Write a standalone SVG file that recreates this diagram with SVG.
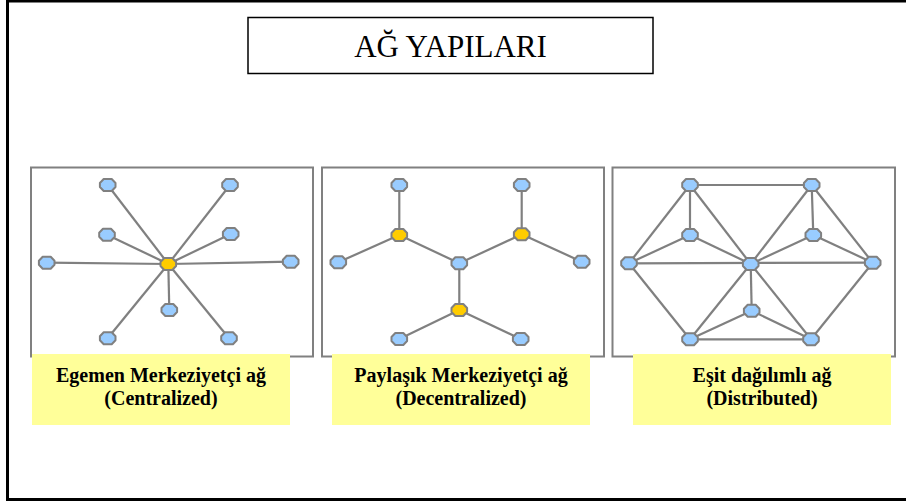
<svg xmlns="http://www.w3.org/2000/svg" xmlns:xlink="http://www.w3.org/1999/xlink" width="906" height="503" viewBox="0 0 906 503">
  <style>
    .frame { fill: #ffffff; stroke: #000000; stroke-width: 3; }
    .title-box { fill: #ffffff; stroke: #000000; stroke-width: 1.5; }
    .title { font-family: "Liberation Serif", "Times New Roman", serif; font-size: 31px; fill: #000000; }
    .panel { fill: #ffffff; stroke: #808080; stroke-width: 2; }
    .caption-box { fill: #ffff99; }
    .caption { font-family: "Liberation Serif", "Times New Roman", serif; font-size: 20px; font-weight: bold; fill: #000000; text-anchor: middle; }
    .edges line { stroke: #808080; stroke-width: 2.2; }
    .node { stroke: #808080; stroke-width: 2; stroke-linejoin: round; }
    .leaf { fill: #99ccff; }
    .hub { fill: #ffcc00; }
  </style>
  <defs>
    <path id="blob" d="M-4,-6 L4,-6 L7.8,-2 L7.8,2 L4,6 L-4,6 L-7.8,2 L-7.8,-2 Z"/>
  </defs>

  <!-- page frame -->
  <rect class="frame" x="7.5" y="1" width="910" height="498.5"/>

  <!-- heading -->
  <g id="title">
    <rect class="title-box" x="248" y="17.5" width="405" height="56"/>
    <text class="title" x="450.5" y="57" text-anchor="middle">AĞ YAPILARI</text>
  </g>

  <!-- ===== Centralized ===== -->
  <g id="panel-centralized">
    <rect class="panel" x="31" y="167.5" width="282" height="189"/>
    <g class="edges">
      <line x1="168.3" y1="264" x2="107.7" y2="185"/>
      <line x1="168.3" y1="264" x2="230" y2="185"/>
      <line x1="168.3" y1="264" x2="107" y2="234.7"/>
      <line x1="168.3" y1="264" x2="230.7" y2="234"/>
      <line x1="168.3" y1="264" x2="46.7" y2="262.7"/>
      <line x1="168.3" y1="264" x2="290.7" y2="261.7"/>
      <line x1="168.3" y1="264" x2="169.3" y2="310"/>
      <line x1="168.3" y1="264" x2="107.7" y2="338.3"/>
      <line x1="168.3" y1="264" x2="229" y2="338.3"/>
    </g>
    <g id="c-n1"><use href="#blob" class="node leaf" x="107.7" y="185"/></g>
    <g id="c-n2"><use href="#blob" class="node leaf" x="230" y="185"/></g>
    <g id="c-n3"><use href="#blob" class="node leaf" x="107" y="234.7"/></g>
    <g id="c-n4"><use href="#blob" class="node leaf" x="230.7" y="234"/></g>
    <g id="c-n5"><use href="#blob" class="node leaf" x="46.7" y="262.7"/></g>
    <g id="c-n6"><use href="#blob" class="node leaf" x="290.7" y="261.7"/></g>
    <g id="c-n7"><use href="#blob" class="node leaf" x="169.3" y="310"/></g>
    <g id="c-n8"><use href="#blob" class="node leaf" x="107.7" y="338.3"/></g>
    <g id="c-n9"><use href="#blob" class="node leaf" x="229" y="338.3"/></g>
    <g id="c-hub"><use href="#blob" class="node hub" x="168.3" y="264"/></g>
  </g>
  <g id="caption-centralized">
    <rect class="caption-box" x="32" y="354" width="258" height="71"/>
    <text class="caption" x="161" y="382">Egemen Merkeziyetçi ağ</text>
    <text class="caption" x="161" y="405">(Centralized)</text>
  </g>

  <!-- ===== Decentralized ===== -->
  <g id="panel-decentralized">
    <rect class="panel" x="322" y="167.5" width="282" height="189"/>
    <g class="edges">
      <line x1="399.3" y1="185" x2="399.3" y2="235"/>
      <line x1="521.7" y1="185" x2="521.7" y2="234.3"/>
      <line x1="399.3" y1="235" x2="338.3" y2="262.3"/>
      <line x1="399.3" y1="235" x2="459.3" y2="263.3"/>
      <line x1="521.7" y1="234.3" x2="459.3" y2="263.3"/>
      <line x1="521.7" y1="234.3" x2="581.7" y2="261.7"/>
      <line x1="459.3" y1="263.3" x2="459.3" y2="310"/>
      <line x1="459.3" y1="310" x2="399.3" y2="339"/>
      <line x1="459.3" y1="310" x2="520.7" y2="339"/>
    </g>
    <g id="d-n1"><use href="#blob" class="node leaf" x="399.3" y="185"/></g>
    <g id="d-n2"><use href="#blob" class="node leaf" x="521.7" y="185"/></g>
    <g id="d-hub1"><use href="#blob" class="node hub" x="399.3" y="235"/></g>
    <g id="d-hub2"><use href="#blob" class="node hub" x="521.7" y="234.3"/></g>
    <g id="d-n3"><use href="#blob" class="node leaf" x="338.3" y="262.3"/></g>
    <g id="d-n4"><use href="#blob" class="node leaf" x="581.7" y="261.7"/></g>
    <g id="d-core"><use href="#blob" class="node leaf" x="459.3" y="263.3"/></g>
    <g id="d-hub3"><use href="#blob" class="node hub" x="459.3" y="310"/></g>
    <g id="d-n5"><use href="#blob" class="node leaf" x="399.3" y="339"/></g>
    <g id="d-n6"><use href="#blob" class="node leaf" x="520.7" y="339"/></g>
  </g>
  <g id="caption-decentralized">
    <rect class="caption-box" x="332" y="354" width="258" height="71"/>
    <text class="caption" x="461" y="382">Paylaşık Merkeziyetçi ağ</text>
    <text class="caption" x="461" y="405">(Decentralized)</text>
  </g>

  <!-- ===== Distributed ===== -->
  <g id="panel-distributed">
    <rect class="panel" x="612.5" y="167.5" width="282.5" height="189"/>
    <g class="edges">
      <line x1="690" y1="185" x2="811.7" y2="185"/>
      <line x1="690" y1="185" x2="690" y2="235"/>
      <line x1="690" y1="185" x2="629" y2="263.3"/>
      <line x1="690" y1="185" x2="750.7" y2="264"/>
      <line x1="690" y1="235" x2="629" y2="263.3"/>
      <line x1="690" y1="235" x2="750.7" y2="264"/>
      <line x1="629" y1="263.3" x2="872.7" y2="262.7"/>
      <line x1="629" y1="263.3" x2="690" y2="339.3"/>
      <line x1="811.7" y1="185" x2="813.3" y2="235"/>
      <line x1="811.7" y1="185" x2="750.7" y2="264"/>
      <line x1="811.7" y1="185" x2="872.7" y2="262.7"/>
      <line x1="813.3" y1="235" x2="750.7" y2="264"/>
      <line x1="813.3" y1="235" x2="872.7" y2="262.7"/>
      <line x1="750.7" y1="264" x2="751.7" y2="310.7"/>
      <line x1="750.7" y1="264" x2="690" y2="339.3"/>
      <line x1="750.7" y1="264" x2="811" y2="339.3"/>
      <line x1="751.7" y1="310.7" x2="690" y2="339.3"/>
      <line x1="751.7" y1="310.7" x2="811" y2="339.3"/>
      <line x1="690" y1="339.3" x2="811" y2="339.3"/>
      <line x1="811" y1="339.3" x2="872.7" y2="262.7"/>
    </g>
    <g id="e-n1"><use href="#blob" class="node leaf" x="690" y="185"/></g>
    <g id="e-n2"><use href="#blob" class="node leaf" x="811.7" y="185"/></g>
    <g id="e-n3"><use href="#blob" class="node leaf" x="690" y="235"/></g>
    <g id="e-n4"><use href="#blob" class="node leaf" x="813.3" y="235"/></g>
    <g id="e-n5"><use href="#blob" class="node leaf" x="629" y="263.3"/></g>
    <g id="e-n6"><use href="#blob" class="node leaf" x="750.7" y="264"/></g>
    <g id="e-n7"><use href="#blob" class="node leaf" x="872.7" y="262.7"/></g>
    <g id="e-n8"><use href="#blob" class="node leaf" x="751.7" y="310.7"/></g>
    <g id="e-n9"><use href="#blob" class="node leaf" x="690" y="339.3"/></g>
    <g id="e-n10"><use href="#blob" class="node leaf" x="811" y="339.3"/></g>
  </g>
  <g id="caption-distributed">
    <rect class="caption-box" x="633" y="354" width="258" height="71"/>
    <text class="caption" x="762" y="382">Eşit dağılımlı ağ</text>
    <text class="caption" x="762" y="405">(Distributed)</text>
  </g>
</svg>
